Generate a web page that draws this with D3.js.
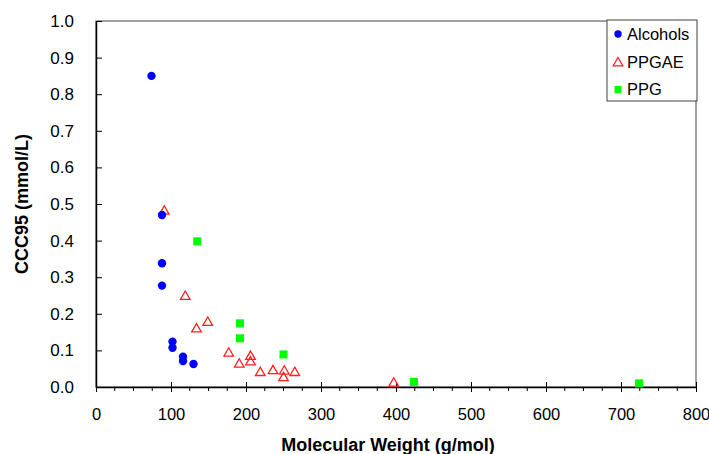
<!DOCTYPE html>
<html>
<head>
<meta charset="utf-8">
<script src="https://cdn.jsdelivr.net/npm/d3@7"></script>
<style>
  html, body { margin: 0; padding: 0; background: #fff; }
  svg { display: block; font-family: "Liberation Sans", Arial, sans-serif; }
</style>
</head>
<body>
<svg id="chart" width="709" height="454"></svg>
<script>
// Critical coalescence concentration vs molecular weight, three frother families
const alcoholsMW  = [74, 88, 88, 88, 102, 102, 116, 116, 130];
const alcoholsCCC = [0.85, 0.47, 0.338, 0.277, 0.124, 0.107, 0.083, 0.071, 0.063];

const ppgaeMW  = [91, 119, 134, 149, 177, 191, 206, 206, 219, 236, 251, 250, 265, 397];
const ppgaeCCC = [0.48, 0.247, 0.158, 0.176, 0.092, 0.062, 0.083, 0.068, 0.039, 0.044, 0.043, 0.025, 0.039, 0.01];

const ppgMW  = [135, 192, 192, 250, 424, 724];
const ppgCCC = [0.398, 0.174, 0.133, 0.089, 0.014, 0.01];

const xTicks = [0, 100, 200, 300, 400, 500, 600, 700, 800];
const yTicks = [0.0, 0.1, 0.2, 0.3, 0.4, 0.5, 0.6, 0.7, 0.8, 0.9, 1.0];
const legendNames = ["Alcohols", "PPGAE", "PPG"];

const svg = d3.select("#chart");
const plotL = 96, plotR = 696, plotT = 21, plotB = 387;

const x = d3.scaleLinear().domain([0, 800]).range([plotL, plotR]);
const y = d3.scaleLinear().domain([0, 1]).range([plotB, plotT]);

// plot frame
svg.append("rect")
  .attr("x", plotL).attr("y", plotT)
  .attr("width", plotR - plotL).attr("height", plotB - plotT)
  .attr("fill", "none").attr("stroke", "#808080").attr("stroke-width", 1.5);

// x axis: minor ticks every 25 below the line, majors crossing it
const xMinor = d3.range(0, 801, 25).filter(v => v % 100 !== 0);
svg.append("g").selectAll("line").data(xMinor).join("line")
  .attr("x1", d => x(d)).attr("x2", d => x(d))
  .attr("y1", plotB).attr("y2", plotB + 4)
  .attr("stroke", "#000").attr("stroke-width", 1);

const xAxis = svg.append("g").attr("transform", `translate(0,${plotB})`)
  .call(d3.axisBottom(x).tickValues(xTicks).tickSize(5).tickSizeOuter(0).tickPadding(16)
    .tickFormat(d3.format("d")));
xAxis.select(".domain").attr("stroke", "#000").attr("stroke-width", 1.5);
xAxis.selectAll(".tick line").attr("y1", -5).attr("stroke", "#000");
xAxis.selectAll(".tick text").attr("font-size", 16.5).attr("fill", "#000")
  .attr("font-family", "Liberation Sans, Arial, sans-serif");

// y axis: ticks point inward
const yAxis = svg.append("g").attr("transform", `translate(${plotL},0)`)
  .call(d3.axisLeft(y).tickValues(yTicks).tickSize(-6).tickSizeOuter(0).tickPadding(22)
    .tickFormat(d3.format(".1f")));
yAxis.select(".domain").attr("stroke", "#000").attr("stroke-width", 1.5);
yAxis.selectAll(".tick line").attr("stroke", "#000");
yAxis.selectAll(".tick text").attr("font-size", 17).attr("fill", "#000")
  .attr("font-family", "Liberation Sans, Arial, sans-serif");

// axis titles
svg.append("text")
  .attr("x", (plotL + plotR) / 2 - 8).attr("y", 451)
  .attr("text-anchor", "middle").attr("font-size", 18).attr("font-weight", "bold")
  .text("Molecular Weight (g/mol)");

svg.append("text")
  .attr("transform", `translate(28,${(plotT + plotB) / 2}) rotate(-90)`)
  .attr("text-anchor", "middle").attr("font-size", 18).attr("font-weight", "bold")
  .text("CCC95 (mmol/L)");

// markers
const tri = d3.symbol().type(d3.symbolTriangle).size(40);

svg.append("g").selectAll("rect").data(d3.zip(ppgMW, ppgCCC)).join("rect")
  .attr("x", d => x(d[0]) - 4).attr("y", d => y(d[1]) - 4)
  .attr("width", 8).attr("height", 8).attr("fill", "#00ff00");

svg.append("g").selectAll("path").data(d3.zip(ppgaeMW, ppgaeCCC)).join("path")
  .attr("d", tri)
  .attr("transform", d => `translate(${x(d[0])},${y(d[1])})`)
  .attr("fill", "none").attr("stroke", "#ff2020").attr("stroke-width", 1.3);

svg.append("g").selectAll("circle").data(d3.zip(alcoholsMW, alcoholsCCC)).join("circle")
  .attr("cx", d => x(d[0])).attr("cy", d => y(d[1])).attr("r", 4.2)
  .attr("fill", "#0000ff");

// legend
const lg = svg.append("g");
lg.append("rect").attr("x", 607).attr("y", 20).attr("width", 90).attr("height", 81)
  .attr("fill", "#fff").attr("stroke", "#404040").attr("stroke-width", 1);
const rowsY = [34, 62, 89];
lg.append("circle").attr("cx", 618).attr("cy", rowsY[0]).attr("r", 3.7).attr("fill", "#0000ff");
lg.append("path").attr("d", tri).attr("transform", `translate(618,${rowsY[1] + 1})`)
  .attr("fill", "none").attr("stroke", "#ff2020").attr("stroke-width", 1.3);
lg.append("rect").attr("x", 614.5).attr("y", rowsY[2] - 3).attr("width", 7).attr("height", 7)
  .attr("fill", "#00ff00");
lg.selectAll("text.lab").data(legendNames).join("text").attr("class", "lab")
  .attr("x", 627).attr("y", (d, i) => rowsY[i] + 6)
  .attr("font-size", 16.5).attr("fill", "#000").text(d => d);
</script>
</body>
</html>
